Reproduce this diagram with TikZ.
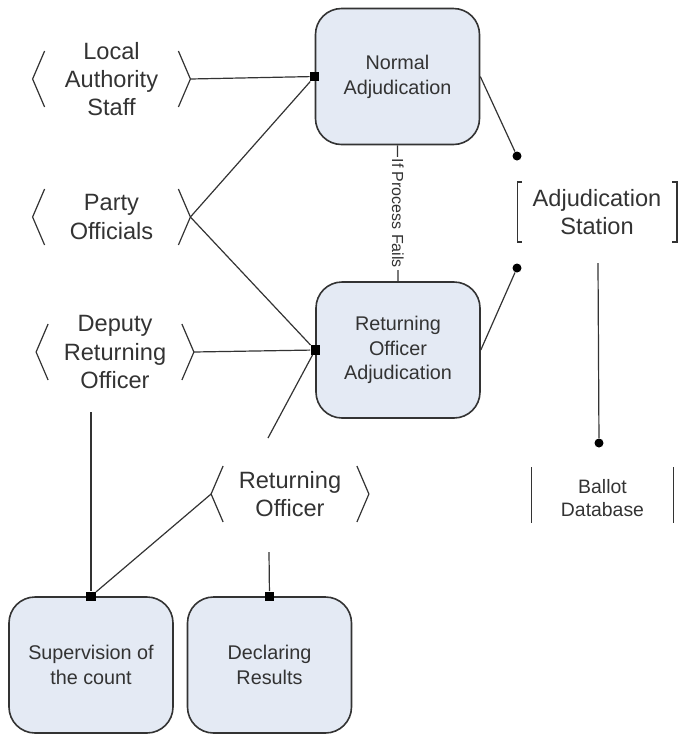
\documentclass[tikz,border=0pt]{standalone}
\usepackage{fontspec}
\setmainfont{Liberation Sans}
\definecolor{boxfill}{HTML}{E4EAF4}
\definecolor{ink}{HTML}{333333}
\tikzset{
  proc/.style={draw=ink, fill=boxfill, rounded corners=13pt, line width=0.8pt,
    minimum width=82pt, minimum height=68pt, align=center, text=ink,
    font=\fontsize{9.9}{12.4}\selectfont},
  actor/.style={minimum width=78.5pt, inner sep=0pt, align=center, text=ink,
    font=\fontsize{11.8}{14.2}\selectfont},
  sq/.style={fill=black, minimum size=4.6pt, inner sep=0pt},
  endDot/.style={circle, fill=black, minimum size=4.5pt, inner sep=0pt},
  conn/.style={line width=0.6pt, draw=ink},
}
\begin{document}
\begin{tikzpicture}[x=0.5pt, y=-0.5pt]
\useasboundingbox (0,0) rectangle (677,735);
% processes
\node[proc] (norm) at (397.5,76.5) {Normal\\Adjudication};
\node[proc] (roa) at (398,350) {Returning\\Officer\\Adjudication};
\node[proc] (sup) at (91,665) {Supervision of\\the count};
\node[proc] (dec) at (269.5,665) {Declaring\\Results};

% actors
\node[actor] (las) at (111.5,79) {Local\\Authority\\Staff};
\node[actor] (po) at (111.5,217) {Party\\Officials};
\node[actor] (dro) at (115,352) {Deputy\\Returning\\Officer};
\node[actor] (ro) at (290,494) {Returning\\Officer};
\foreach \n in {las,po,dro,ro}{
  \draw[conn] (\n.west) ++(12,-28) -- ++(-12,28) -- ++(12,28);
  \draw[conn] (\n.east) ++(-12,-28) -- ++(12,28) -- ++(-12,28);
}

% station and store
\node[actor, minimum width=79.5pt] (ast) at (597,212) {Adjudication\\Station};
\draw[conn] (ast.west) ++(5,-30) -- ++(-5,0) -- ++(0,60) -- ++(5,0);
\draw[conn] (ast.east) ++(-5,-30) -- ++(5,0) -- ++(0,60) -- ++(-5,0);
\node[actor, minimum width=70.5pt, font=\fontsize{9.7}{11.8}\selectfont] (bdb) at (602.5,498) {Ballot\\Database};
\draw[conn] (bdb.west) ++(0,-31) -- ++(0,56);
\draw[conn] (bdb.east) ++(0,-31) -- ++(0,56);

% ends
\node[sq] (nSq) at (norm.west) {};
\node[sq] (rSq) at (roa.west) {};
\node[sq] (sSq) at (sup.north) {};
\node[sq] (dSq) at (dec.north) {};
\node[endDot] (d1) at (517,156) {};
\node[endDot] (d2) at (517,268) {};
\node[endDot] (d3) at (599,443) {};
\coordinate (astBot) at (598,263);
\coordinate (droBot) at (91,412);
\coordinate (roTop) at (268,438);
\coordinate (roBot) at (269,552);

% connectors
\draw[conn] (las.east) -- (nSq);
\draw[conn] (po.east) -- (nSq);
\draw[conn] (po.east) -- (rSq);
\draw[conn] (dro.east) -- (rSq);
\draw[conn] (roTop) -- (rSq);
\draw[conn] (ro.west) -- (sSq);
\draw[conn] (droBot) -- (sSq);
\draw[conn] (roBot) -- (dSq);
\draw[conn] (norm.east) -- (d1);
\draw[conn] (roa.east) -- (d2);
\draw[conn] (astBot) -- (d3);
\draw[conn] (norm.south) -- node[rotate=-90, fill=white, inner sep=1pt, text=ink,
  font=\fontsize{8}{9.6}\selectfont] {If Process Fails} (roa.north);
\end{tikzpicture}
\end{document}
